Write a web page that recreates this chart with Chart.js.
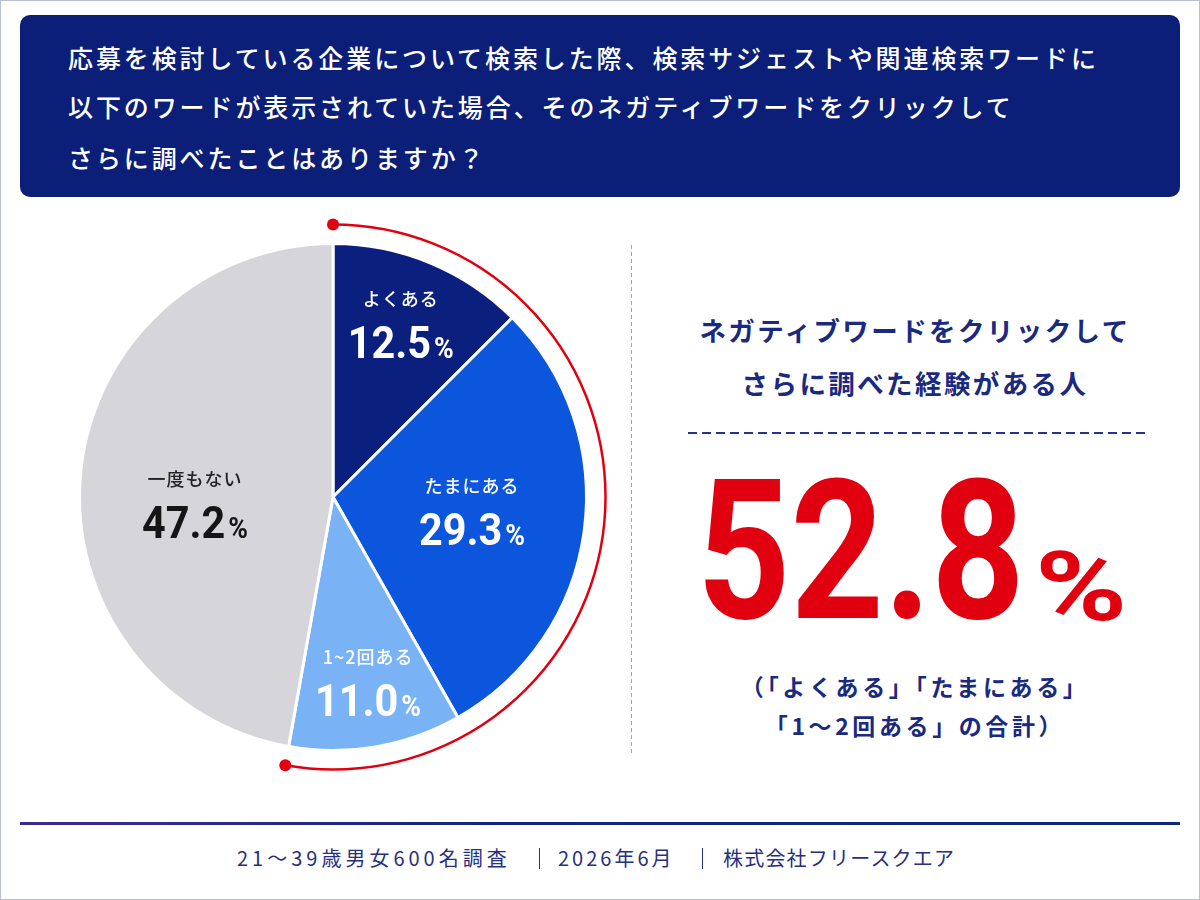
<!DOCTYPE html>
<html lang="ja">
<head>
<meta charset="utf-8">
<script src="https://cdn.jsdelivr.net/npm/chart.js@4"></script>
<style>
  html,body{margin:0;padding:0;background:#fff;}
  body{width:1200px;height:900px;position:relative;overflow:hidden;font-family:"Noto Sans CJK JP","Noto Sans",sans-serif;}
  .frame{position:absolute;left:0;top:0;width:1198px;height:898px;border:1px solid #b9bfd3;}
  .header{position:absolute;left:20px;top:15px;width:1160px;height:182px;background:#0b1e78;border-radius:10px;}
  .hline{position:absolute;left:48px;color:#fff;font-size:25px;font-weight:500;letter-spacing:2.9px;white-space:nowrap;line-height:30px;}
  .vdash{position:absolute;left:631px;top:245px;width:1px;height:508px;background:repeating-linear-gradient(to bottom,#a5a5a5 0 4px,transparent 4px 7px);}
  .rtitle{position:absolute;left:640px;width:550px;text-align:center;color:#1a2a80;font-size:26.5px;font-weight:700;letter-spacing:2.4px;white-space:nowrap;line-height:32px;}
  .hdash{position:absolute;left:688px;top:432px;width:458px;height:2px;background:repeating-linear-gradient(to right,#24348c 0 9px,transparent 9px 14px);}
  .bignum{position:absolute;left:697px;top:455px;white-space:nowrap;color:#e1000f;font-family:Roboto,sans-serif;font-weight:700;font-size:194px;line-height:194px;transform:scaleX(0.84);transform-origin:left top;}
  .bigpct{position:absolute;left:1035px;top:539px;white-space:nowrap;color:#e1000f;font-family:Roboto,sans-serif;font-weight:700;font-size:96px;line-height:96px;transform:scaleX(1.3);transform-origin:left top;}
  .cap{position:absolute;left:640px;width:550px;text-align:center;color:#1a2a80;font-size:23px;font-weight:700;letter-spacing:3.6px;white-space:nowrap;line-height:28px;}
  .fline{position:absolute;left:20px;top:822px;width:1160px;height:3px;background:linear-gradient(to right,#3b2c92,#13267f 40%,#0c2a78);}
  .fseg{position:absolute;top:845px;color:#27307e;font-size:20px;font-weight:400;line-height:26px;white-space:nowrap;}
  .fsep{position:absolute;top:848px;width:1px;height:21px;background:#27307e;}
</style>
</head>
<body>
<div class="frame"></div>
<div class="header">
  <div class="hline" style="top:27px">応募を検討している企業について検索した際、検索サジェストや関連検索ワードに</div>
  <div class="hline" style="top:76px">以下のワードが表示されていた場合、そのネガティブワードをクリックして</div>
  <div class="hline" style="top:127px">さらに調べたことはありますか？</div>
</div>

<div style="position:absolute;left:53px;top:217px;width:560px;height:560px;"><canvas id="c" width="560" height="560"></canvas></div>

<div class="vdash"></div>
<div class="rtitle" style="top:314px">ネガティブワードをクリックして</div>
<div class="rtitle" style="top:367px">さらに調べた経験がある人</div>
<div class="hdash"></div>
<div class="bignum" id="bignum"></div>
<div class="bigpct">%</div>
<div class="cap" style="top:672px">（「よくある」「たまにある」</div>
<div class="cap" style="top:711px">「1～2回ある」の合計）</div>
<div class="fline"></div>
<div class="fseg" style="left:237px;letter-spacing:4px;">21～39歳男女600名調査</div>
<div class="fsep" style="left:539px;"></div>
<div class="fseg" style="left:558px;letter-spacing:3px;">2026年6月</div>
<div class="fsep" style="left:702px;"></div>
<div class="fseg" style="left:723px;letter-spacing:1.2px;">株式会社フリースクエア</div>

<script>
// ---- data ----
const categories = ['よくある', 'たまにある', '1~2回ある', '一度もない'];
const values = [12.5, 29.3, 11.0, 47.2];
const experiencedCount = 3; // first three categories form the "experienced" total

// ---- styles ----
const sliceColors = ['#0a1f7e', '#0b56dc', '#79b3f6', '#d6d5d9'];
const nameColors = ['#ffffff', '#ffffff', '#ffffff', '#222222'];
const valueColors = ['#ffffff', '#ffffff', '#ffffff', '#151515'];
const labelRadius = [0.745, 0.55, 0.73, 0.545];
const labelAngleShift = [-1.5, -3.2, -1.2, -6.7];
const red = '#e1000f';

const total = values.slice(0, experiencedCount).reduce((a, b) => a + b, 0);
document.getElementById('bignum').textContent = total.toFixed(1);

const arcPlugin = {
  id: 'experienceArc',
  afterDatasetsDraw(chart) {
    const meta = chart.getDatasetMeta(0);
    const first = meta.data[0], last = meta.data[experiencedCount - 1];
    const p0 = first.getProps(['x', 'y', 'startAngle', 'outerRadius'], true);
    const p1 = last.getProps(['endAngle'], true);
    const r = p0.outerRadius + 19;
    const ctx = chart.ctx;
    ctx.save();
    ctx.strokeStyle = red;
    ctx.lineWidth = 2.5;
    ctx.beginPath();
    ctx.arc(p0.x, p0.y, r, p0.startAngle, p1.endAngle);
    ctx.stroke();
    ctx.fillStyle = red;
    [p0.startAngle, p1.endAngle].forEach(a => {
      ctx.beginPath();
      ctx.arc(p0.x + Math.cos(a) * r, p0.y + Math.sin(a) * r, 6, 0, Math.PI * 2);
      ctx.fill();
    });
    ctx.restore();
  }
};

const labelPlugin = {
  id: 'sliceLabels',
  afterDatasetsDraw(chart) {
    const ctx = chart.ctx;
    const meta = chart.getDatasetMeta(0);
    meta.data.forEach((arc, i) => {
      const p = arc.getProps(['x', 'y', 'startAngle', 'endAngle', 'outerRadius'], true);
      const mid = (p.startAngle + p.endAngle) / 2 + labelAngleShift[i] * Math.PI / 180;
      const r = p.outerRadius * labelRadius[i];
      const lx = p.x + Math.cos(mid) * r;
      const ly = p.y + Math.sin(mid) * r;
      ctx.save();
      ctx.textBaseline = 'alphabetic';
      ctx.textAlign = 'center';
      ctx.fillStyle = nameColors[i];
      ctx.font = '500 18px "Noto Sans CJK JP"';
      ctx.letterSpacing = '1px';
      ctx.fillText(categories[i], lx, ly - 15);
      // value
      const sx = 0.92;
      const num = values[i].toFixed(1);
      ctx.letterSpacing = '0px';
      ctx.font = '700 45px Roboto';
      const nw = ctx.measureText(num).width * sx;
      ctx.font = '700 29px Roboto';
      const pw = ctx.measureText('%').width * sx;
      const gap = 3;
      const x0 = lx - (nw + gap + pw) / 2;
      ctx.fillStyle = valueColors[i];
      ctx.textAlign = 'left';
      ctx.save();
      ctx.translate(x0, ly + 37);
      ctx.scale(sx, 1);
      ctx.font = '700 45px Roboto';
      ctx.fillText(num, 0, 0);
      ctx.restore();
      ctx.save();
      ctx.translate(x0 + nw + gap, ly + 37);
      ctx.scale(sx, 1);
      ctx.font = '700 29px Roboto';
      ctx.fillText('%', 0, 0);
      ctx.restore();
      ctx.restore();
    });
  }
};

new Chart(document.getElementById('c'), {
  type: 'pie',
  data: {
    labels: categories,
    datasets: [{
      data: values,
      backgroundColor: sliceColors,
      borderColor: '#ffffff',
      borderWidth: 3
    }]
  },
  options: {
    responsive: false,
    animation: false,
    layout: { padding: 25 },
    plugins: { legend: { display: false }, tooltip: { enabled: false } },
    events: []
  },
  plugins: [arcPlugin, labelPlugin]
});
</script>
</body>
</html>
